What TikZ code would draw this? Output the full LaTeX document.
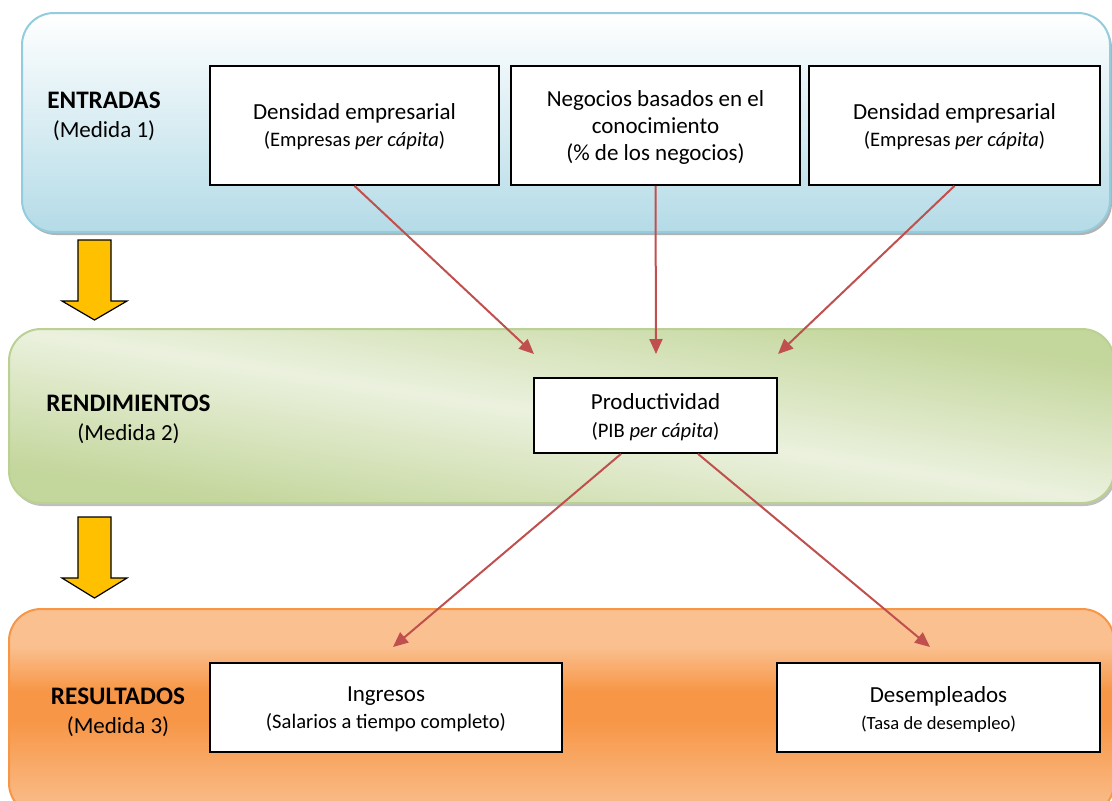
\documentclass[tikz,border=0pt]{standalone}
\usepackage{fontspec}
\setmainfont{Carlito}
\usetikzlibrary{arrows.meta}
\definecolor{bandblue}{HTML}{B4DBE7}
\definecolor{edgeblue}{HTML}{93CDDD}
\definecolor{bandgreen}{HTML}{C3D69B}
\definecolor{lightgreen}{HTML}{EBF1DE}
\definecolor{edgegreen}{HTML}{BBD193}
\definecolor{bandorange}{HTML}{F79646}
\definecolor{lightorange}{HTML}{FAC090}
\definecolor{linkred}{HTML}{C0504D}
\definecolor{flowyellow}{HTML}{FFC000}
\pgfdeclareverticalshading{greenband}{100bp}{color(0bp)=(bandgreen); color(27bp)=(bandgreen);
  color(50bp)=(lightgreen); color(73bp)=(bandgreen); color(100bp)=(bandgreen)}
\pgfdeclareverticalshading{orangeband}{100bp}{color(0bp)=(lightorange); color(25bp)=(lightorange);
  color(48bp)=(bandorange); color(55bp)=(bandorange); color(66bp)=(lightorange); color(100bp)=(lightorange)}
\tikzset{
  band/.style={rounded corners=16pt,line width=1pt},
  measure/.style={draw=black,fill=white,line width=0.9pt,align=center,inner sep=2pt,
    text depth=0pt,font=\fontsize{11.5}{13.5}\selectfont},
  stage/.style={align=center,font=\fontsize{11.5}{14.5}\selectfont},
  link/.style={linkred,line width=1pt,-{Triangle[length=7.5pt,width=6.5pt]}},
  flow/.style={fill=flowyellow,draw=black,line width=0.6pt},
}
\newcommand{\subline}[1]{{\fontsize{10.3}{13.5}\selectfont #1}}
\newcommand{\stagename}[1]{{\fontsize{12.6}{14.5}\selectfont\bfseries #1}}
\begin{document}
\begin{tikzpicture}[x=0.5pt,y=-0.5pt]
  \useasboundingbox (0,0) rectangle (1112,800);
  \clip (0,0) rectangle (1112,800);
  % Entradas (Medida 1)
  \fill[black!30,rounded corners=16pt] (24,16) rectangle (1112,235);
  \draw[band,draw=edgeblue,top color=white,bottom color=bandblue] (22,13) rectangle (1110,232);
  \node[stage] (ent) at (104,116) {\stagename{ENTRADAS}\\(Medida 1)};
  \node[measure,minimum width=144.5pt,minimum height=59.5pt] (dens1) at (354.5,125.5)
    {Densidad empresarial\\\subline{(Empresas \textit{per cápita})}};
  \node[measure,minimum width=144.5pt,minimum height=59.5pt] (neg) at (655.5,125.5)
    {Negocios basados en el\\conocimiento\\(\% de los negocios)};
  \node[measure,minimum width=145.5pt,minimum height=59.5pt] (dens2) at (954.5,125.5)
    {Densidad empresarial\\\subline{(Empresas \textit{per cápita})}};
  % Rendimientos (Medida 2)
  \fill[black!25,rounded corners=16pt] (11,332) rectangle (1116,506);
  \draw[band,draw=edgegreen,shade,shading=greenband,shading angle=-9] (9,329) rectangle (1114,503);
  \node[stage] (ren) at (128.5,419) {\stagename{RENDIMIENTOS}\\(Medida 2)};
  \node[measure,minimum width=121.5pt,minimum height=37.5pt] (prod) at (655.5,415.5)
    {Productividad\\\subline{(PIB \textit{per cápita})}};
  % Resultados (Medida 3)
  \draw[band,draw=bandorange,shade,shading=orangeband] (9,609) rectangle (1114,815);
  \node[stage] (res) at (118,712) {\stagename{RESULTADOS}\\(Medida 3)};
  \node[measure,minimum width=176pt,minimum height=44.5pt] (ing) at (386,707.5)
    {Ingresos\\\subline{(Salarios a tiempo completo)}};
  \node[measure,minimum width=161.5pt,minimum height=44.5pt] (des) at (938.5,707.5)
    {Desempleados\\{\fontsize{9.3}{13}\selectfont (Tasa de desempleo)}};
  % block arrows between the stages
  \draw[flow] (78,240) -- (111,240) -- (111,301) -- (127,301) -- (94.5,320)
    -- (62,301) -- (78,301) -- cycle;
  \draw[flow] (78,517) -- (111,517) -- (111,578) -- (127,578) -- (94.5,598)
    -- (62,578) -- (78,578) -- cycle;
  % links
  \coordinate (t1) at (534,354);
  \coordinate (t2) at (656,354);
  \coordinate (t3) at (778,354);
  \coordinate (t4) at (393,647);
  \coordinate (t5) at (930,647);
  \draw[link] (dens1.south) -- (t1);
  \draw[link] (neg.south) -- (t2);
  \draw[link] (dens2.south) -- (t3);
  \draw[link] ([xshift=-17.25pt]prod.south) -- (t4);
  \draw[link] ([xshift=21.25pt]prod.south) -- (t5);
\end{tikzpicture}
\end{document}
